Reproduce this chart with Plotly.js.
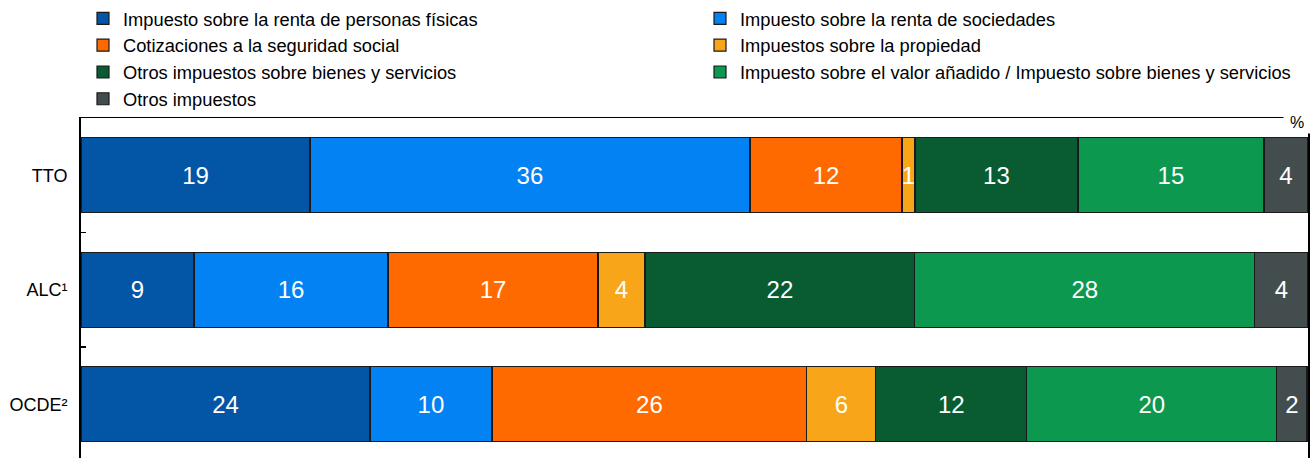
<!DOCTYPE html>
<html>
<head>
<meta charset="utf-8">
<script src="https://cdn.plot.ly/plotly-3.0.1.min.js"></script>
<style>html,body{margin:0;padding:0;background:#fff;}#chart{width:1310px;height:458px;}</style>
</head>
<body>
<div id="chart"></div>
<script>
// Categories (top to bottom)
const categories = ['TTO', 'ALC¹', 'OCDE²'];

// Series names
const seriesNames = [
  'Impuesto sobre la renta de personas físicas',
  'Impuesto sobre la renta de sociedades',
  'Cotizaciones a la seguridad social',
  'Impuestos sobre la propiedad',
  'Otros impuestos sobre bienes y servicios',
  'Impuesto sobre el valor añadido / Impuesto sobre bienes y servicios',
  'Otros impuestos'
];

// Share of total tax revenue (%), per category [TTO, ALC, OCDE]
const irpf      = [18.66, 9.21, 23.55];
const sociedades= [35.86, 15.81, 9.94];
const cotiz     = [12.39, 17.11, 25.67];
const propiedad = [1.06, 3.83, 5.62];
const otrosBS   = [13.28, 22.0, 12.31];
const iva       = [15.16, 27.71, 20.37];
const otros     = [3.59, 4.32, 2.45];

// Displayed labels
const lblIrpf = [19, 9, 24];
const lblSoc  = [36, 16, 10];
const lblCot  = [12, 17, 26];
const lblProp = [1, 4, 6];
const lblOBS  = [13, 22, 12];
const lblIva  = [15, 28, 20];
const lblOtr  = [4, 4, 2];

const seriesValues = [irpf, sociedades, cotiz, propiedad, otrosBS, iva, otros];
const seriesLabels = [lblIrpf, lblSoc, lblCot, lblProp, lblOBS, lblIva, lblOtr];
const colors = ['#0355A5', '#0382F4', '#FF6A00', '#F9A51A', '#095C32', '#0D9850', '#444D4D'];
const legendColumn = ['legend', 'legend2', 'legend', 'legend2', 'legend', 'legend2', 'legend'];

const FONT = '"Liberation Sans", Arial, sans-serif';

const traces = seriesValues.map((vals, i) => ({
  type: 'bar',
  orientation: 'h',
  name: seriesNames[i],
  legend: legendColumn[i],
  y: categories,
  x: vals,
  text: seriesLabels[i].map(String),
  texttemplate: '%{text}',
  textposition: 'inside',
  insidetextanchor: 'middle',
  textangle: 0,
  constraintext: 'none',
  cliponaxis: false,
  textfont: {family: FONT, size: 24, color: '#ffffff'},
  marker: {color: colors[i], line: {color: '#1a1a1a', width: 1.2}},
  hoverinfo: 'skip'
}));

const legendBase = {
  orientation: 'v',
  xref: 'container', yref: 'container',
  y: 1,
  xanchor: 'left', yanchor: 'top',
  traceorder: 'normal',
  tracegroupgap: 0,
  font: {family: FONT, size: 18.3, color: '#000000'},
  bgcolor: 'rgba(0,0,0,0)',
  borderwidth: 0
};

const layout = {
  width: 1310,
  height: 458,
  margin: {l: 81, r: 2, t: 118, b: 0, pad: 0, autoexpand: false},
  paper_bgcolor: '#ffffff',
  plot_bgcolor: '#ffffff',
  barmode: 'stack',
  bargap: 0.345,
  font: {family: FONT, size: 18.3, color: '#000000'},
  showlegend: true,
  legend: Object.assign({}, legendBase, {x: 83 / 1310}),
  legend2: Object.assign({}, legendBase, {x: 700 / 1310}),
  xaxis: {
    range: [0, 100],
    showticklabels: false,
    showgrid: false,
    zeroline: false,
    ticks: '',
    showline: true,
    mirror: true,
    linecolor: '#000000',
    linewidth: 1.5,
    fixedrange: true
  },
  yaxis: {
    type: 'category',
    categoryorder: 'array',
    categoryarray: categories,
    range: [2.47, -0.5],
    showgrid: false,
    zeroline: false,
    showline: true,
    mirror: true,
    linecolor: '#000000',
    linewidth: 2,
    ticks: 'inside',
    tickson: 'boundaries',
    ticklen: 5,
    tickwidth: 1.5,
    tickcolor: '#000000',
    ticklabelstandoff: 8,
    tickfont: {family: FONT, size: 18, color: '#000000'},
    fixedrange: true
  },
  annotations: [{
    text: '%',
    xref: 'paper', yref: 'paper',
    x: 1, y: 1,
    xanchor: 'center', yanchor: 'middle',
    xshift: -11, yshift: -4,
    width: 24, height: 20,
    bgcolor: '#ffffff',
    showarrow: false,
    font: {family: FONT, size: 16, color: '#000000'}
  }]
};

Plotly.newPlot('chart', traces, layout, {displayModeBar: false, staticPlot: true});
</script>
</body>
</html>
